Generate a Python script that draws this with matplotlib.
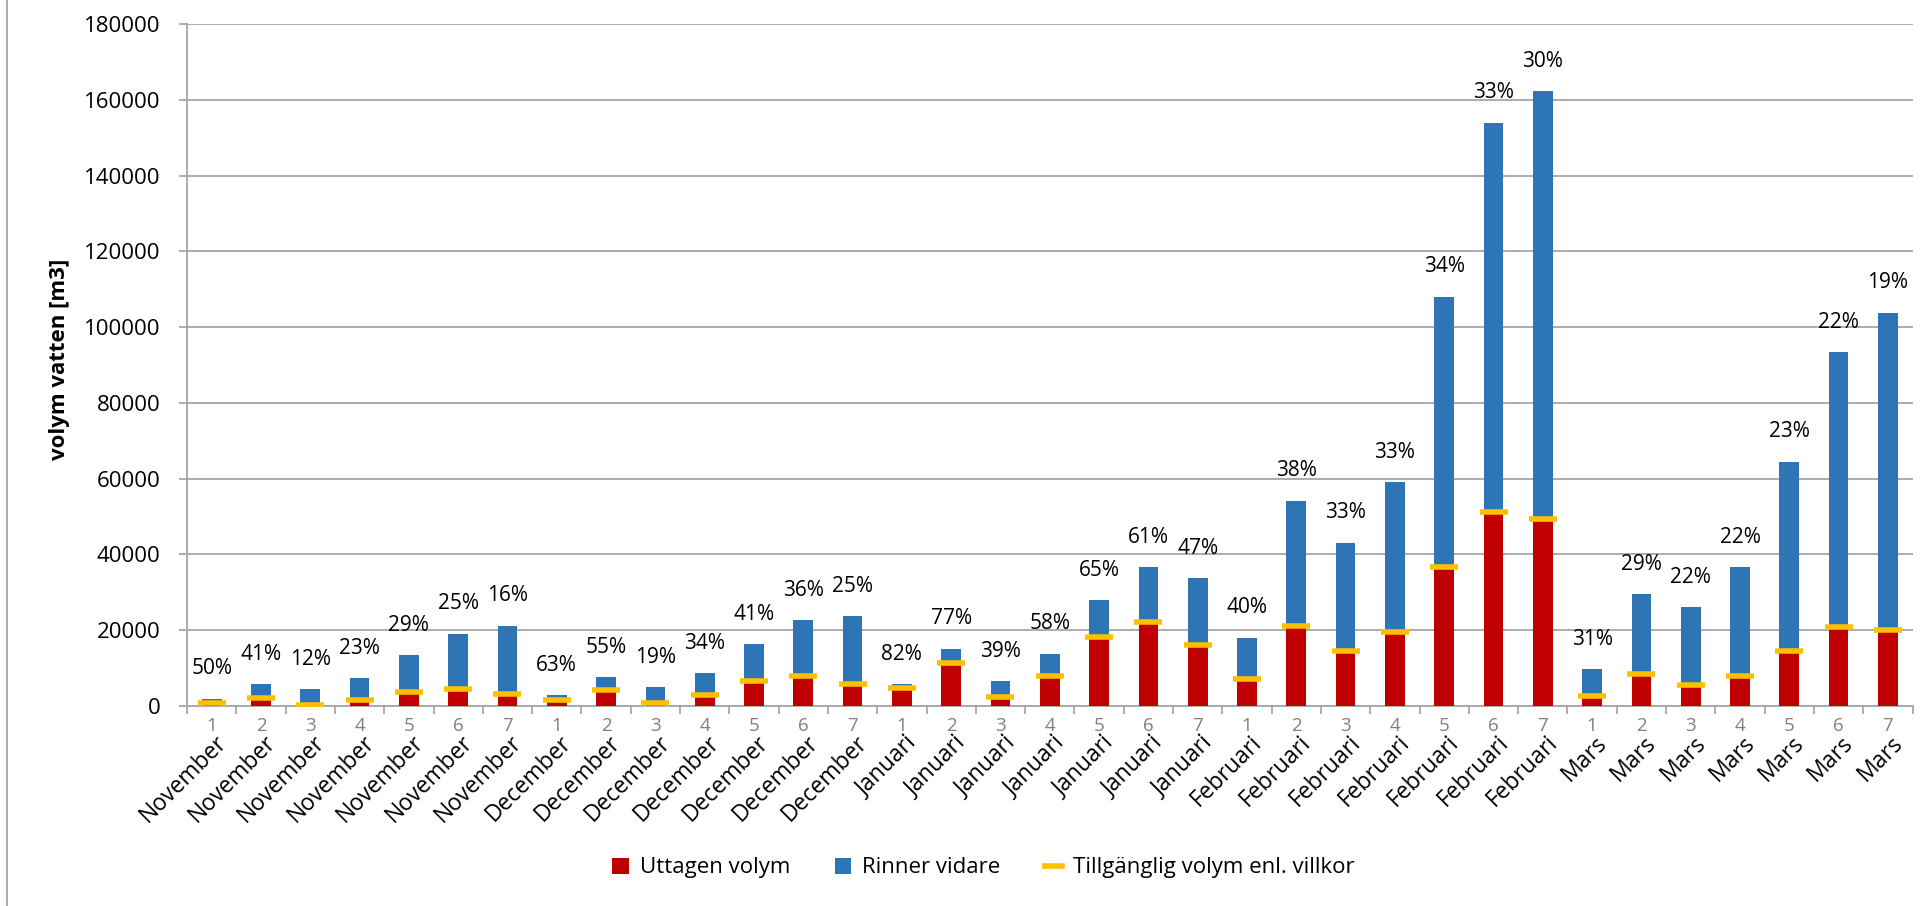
import matplotlib
matplotlib.use("Agg")
import matplotlib.pyplot as plt
from matplotlib.lines import Line2D
from matplotlib.patches import Patch
import numpy as np

plt.rcParams['font.family'] = ['Open Sans', 'DejaVu Sans']

months = ["November"] * 7 + ["December"] * 7 + ["Januari"] * 7 + ["Februari"] * 7 + ["Mars"] * 7
weeks = ["1", "2", "3", "4", "5", "6", "7"] * 5

# total volume (Uttagen + Rinner vidare)
total = [1960, 5780, 4450, 7380, 13420, 19020, 21160,
         2760, 7650, 4980, 8620, 16270, 22670, 23650,
         5780, 15110, 6490, 13780, 27900, 36630, 33780,
         18050, 54200, 43100, 59100, 108000, 154000, 162300,
         9700, 29500, 26000, 36600, 64500, 93300, 103800]

# Uttagen volym
uttagen = [980, 2370, 530, 1700, 3890, 4760, 3390,
           1740, 4200, 950, 2930, 6670, 8160, 5910,
           4740, 11640, 2530, 7990, 18140, 22340, 15880,
           7220, 20600, 14200, 19500, 36700, 50800, 48700,
           3000, 8560, 5710, 8060, 14840, 20550, 19720]

# Tillgänglig volym enl. villkor
tillganglig = [710, 2130, 270, 1600, 3730, 4530, 3200,
               1600, 4270, 710, 2930, 6670, 8000, 5870,
               4800, 11470, 2400, 8000, 18130, 22140, 16000,
               7200, 21070, 14400, 19470, 36650, 51240, 49300,
               2600, 8430, 5510, 7780, 14590, 20750, 20100]

pct_labels = ["50%", "41%", "12%", "23%", "29%", "25%", "16%",
              "63%", "55%", "19%", "34%", "41%", "36%", "25%",
              "82%", "77%", "39%", "58%", "65%", "61%", "47%",
              "40%", "38%", "33%", "33%", "34%", "33%", "30%",
              "31%", "29%", "22%", "22%", "23%", "22%", "19%"]

RED = "#C00000"
BLUE = "#2E75B6"
YEL = "#FFC000"
GRID = "#A6A6A6"

fig = plt.figure(figsize=(19.28, 9.06), dpi=100)
ax = fig.add_axes([0.097, 0.2208, 0.895, 0.7527])

n = len(total)
x = np.arange(n)
rinner = np.array(total) - np.array(uttagen)

ax.bar(x, uttagen, width=0.4, color=RED, zorder=3)
ax.bar(x, rinner, width=0.4, bottom=uttagen, color=BLUE, zorder=3)
ax.plot(x, tillganglig, ls='none', marker='_', ms=19.5, mew=4.0, color=YEL, zorder=4)

for xi, t, lab in zip(x, total, pct_labels):
    ax.annotate(lab, (xi, t), xytext=(0, 14), textcoords='offset points',
                ha='center', va='bottom', fontsize=15, color='black')

ax.set_xlim(-0.5, n - 0.5)
ax.set_ylim(0, 180000)
ax.set_yticks(np.arange(0, 180001, 20000))
ax.yaxis.grid(True, color=GRID, lw=1.3, zorder=0)
ax.set_axisbelow(True)
ax.tick_params(axis='y', labelsize=16, length=6, width=1.3, color=GRID, pad=13)
fig.text(0.031, 0.603, "volym vatten [m3]", rotation=90, ha='center', va='center',
         fontsize=16, fontweight='bold')

for s in ['top', 'right']:
    ax.spines[s].set_visible(False)
for s in ['left', 'bottom']:
    ax.spines[s].set_color(GRID)
    ax.spines[s].set_linewidth(1.3)

# ticks between categories
ax.set_xticks(np.arange(-0.5, n, 1.0))
ax.set_xticklabels([])
ax.tick_params(axis='x', length=6, width=1.3, color=GRID)

for xi, w, m in zip(x, weeks, months):
    ax.annotate(w, (xi, 0), xytext=(0, -8), textcoords='offset points',
                ha='center', va='top', fontsize=13.5, color='#808080')
    ax.annotate(m, (xi, 0), xytext=(2, -18), textcoords='offset points',
                ha='right', va='top', rotation=45, rotation_mode='anchor',
                fontsize=16.5, color='black')

handles = [Patch(facecolor=RED, label="Uttagen volym"),
           Patch(facecolor=BLUE, label="Rinner vidare"),
           Line2D([0], [0], color=YEL, lw=4, label="Tillgänglig volym enl. villkor")]
fig.legend(handles=handles, loc='center', bbox_to_anchor=(0.51, 0.042), ncol=3,
           frameon=False, fontsize=16, handlelength=0.75, handleheight=0.75,
           columnspacing=2.0, handletextpad=0.5)

fig.add_artist(Line2D([0.0037, 0.0037], [0, 1], color=GRID, lw=1.3, transform=fig.transFigure))

fig.savefig("out.png", dpi=100)
